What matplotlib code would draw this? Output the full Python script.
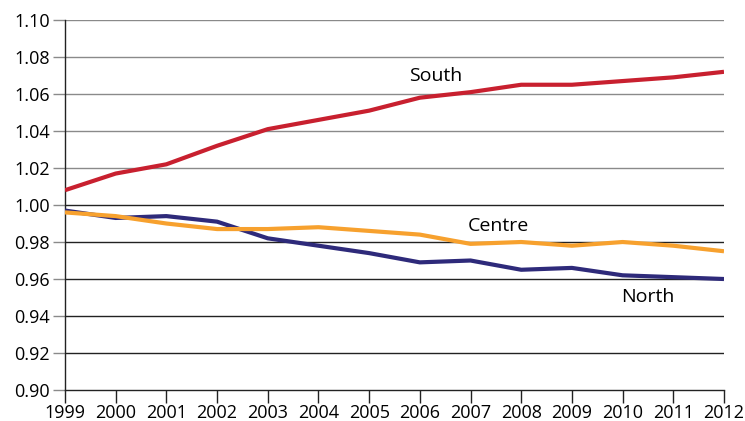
import numpy as np
import matplotlib.pyplot as plt

years = list(range(1999, 2013))
south = [1.008, 1.017, 1.022, 1.032, 1.041, 1.046, 1.051, 1.058, 1.061, 1.065, 1.065, 1.067, 1.069, 1.072]
centre = [0.996, 0.994, 0.990, 0.987, 0.987, 0.988, 0.986, 0.984, 0.979, 0.980, 0.978, 0.980, 0.978, 0.975]
north = [0.997, 0.993, 0.994, 0.991, 0.982, 0.978, 0.974, 0.969, 0.970, 0.965, 0.966, 0.962, 0.961, 0.960]
yticks = [0.90, 0.92, 0.94, 0.96, 0.98, 1.00, 1.02, 1.04, 1.06, 1.08, 1.10]

plt.rcParams['font.family'] = ['Open Sans', 'DejaVu Sans']

fig = plt.figure(figsize=(7.45, 4.21), dpi=100)
ax = fig.add_axes([0.0872, 0.0736, 0.8846, 0.8789])

# gridlines: grey above 1.00, dark below
for v in yticks[1:]:
    col = '#8a8a8a' if v > 1.005 else '#222222'
    ax.axhline(v, color=col, lw=1.0, zorder=1)

ax.plot(years, north, color='#2e2a7a', lw=3, zorder=3, solid_capstyle='butt')
ax.plot(years, centre, color='#f7a12e', lw=3, zorder=4, solid_capstyle='butt')
ax.plot(years, south, color='#c8202f', lw=3, zorder=3, solid_capstyle='butt')

ax.text(2006.32, 1.0695, 'South', fontsize=14, ha='center', va='center')
ax.text(2007.54, 0.9885, 'Centre', fontsize=14, ha='center', va='center')
ax.text(2010.5, 0.9505, 'North', fontsize=14, ha='center', va='center')

ax.set_xlim(1999, 2012)
ax.set_ylim(0.90, 1.10)
ax.set_xticks(years)
ax.set_yticks(yticks)
ax.set_yticklabels([f'{v:.2f}' for v in yticks])
ax.tick_params(axis='both', labelsize=13, length=9, width=1, color='#222222')
ax.tick_params(axis='y', color='#8a8a8a', pad=2)
ax.tick_params(axis='x', pad=1)

for s in ['top', 'right']:
    ax.spines[s].set_visible(False)
ax.spines['left'].set_color('#222222')
ax.spines['bottom'].set_color('#222222')
ax.spines['left'].set_linewidth(1)
ax.spines['bottom'].set_linewidth(1)

fig.savefig('out.png', dpi=100)
